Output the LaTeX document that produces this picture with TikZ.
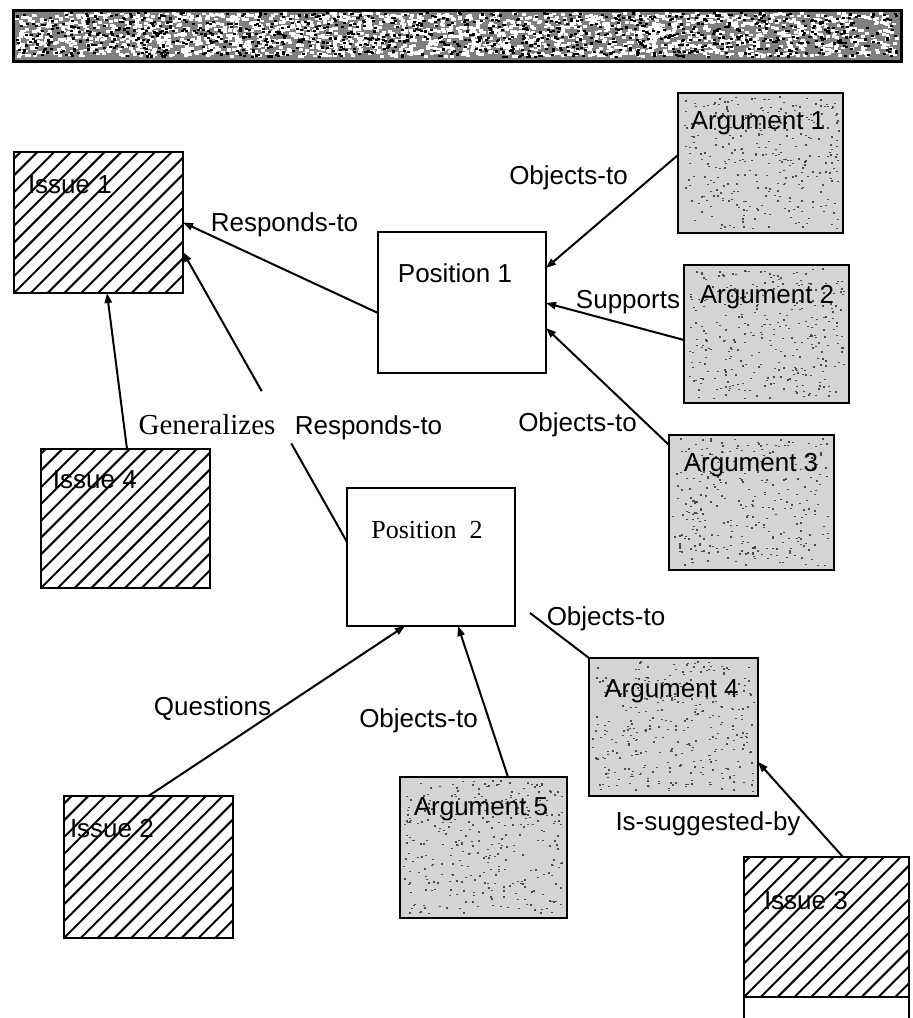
\documentclass[tikz,border=0pt]{standalone}
\usepackage{fontspec}
\setmainfont{Liberation Serif}
\setsansfont{Liberation Sans}
\usetikzlibrary{arrows.meta,calc}

\newcommand\mkspeck[7]{% x y w h n color size
  \foreach \i in {1,...,#5}{%
    \pgfmathsetmacro\sx{#1+rnd*(#3-#7)}%
    \pgfmathsetmacro\sy{#2+rnd*(#4-#7)}%
    \fill[#6] (\sx,\sy) rectangle ++(#7,#7*0.7);%
  }}

\tikzset{
  every node/.style={inner sep=0pt, outer sep=0pt},
  box/.style={draw, rectangle, line width=1pt},
  issue/.style={box, fill=white, path picture={
      \foreach \k in {-11,...,12}{
        \draw[line width=1pt] ($(path picture bounding box.south west)+(\k*8.4pt,0)$) -- ++(120pt,120pt);}}},
  position/.style={box, line width=1.1pt, fill=white},
  argument/.style={box, line width=1.4pt, fill=black!17},
  lab/.style={font=\sffamily\fontsize{13}{15}\selectfont},
  serlab/.style={font=\rmfamily\fontsize{14.5}{16}\selectfont},
  conn/.style={line width=1pt},
  arr/.style={conn, -{Triangle[length=5pt,width=3.6pt]}},
}

\begin{document}
\begin{tikzpicture}[x=0.5pt,y=-0.5pt]
\useasboundingbox[fill=white] (0,0) rectangle (913,1018);

% banner
\node[box, line width=1.5pt, fill=black!50, minimum width=444pt, minimum height=25.5pt] (ban) at (457,35.5) {};
\pgfmathsetseed{7}
\mkspeck{15}{12}{884}{47}{2200}{white}{4}
\mkspeck{15}{12}{884}{47}{1100}{black}{3}
\draw[line width=1.5pt] (ban.north west) rectangle (ban.south east);

% issues
\node[issue, minimum width=84.5pt, minimum height=70.5pt] (i1) at (98.5,222.5) {};
\node[issue, minimum width=84.5pt, minimum height=69.5pt] (i4) at (125.5,518.5) {};
\node[issue, minimum width=84.5pt, minimum height=71pt] (i2) at (148.5,867) {};
\node[issue, line width=1.3pt, minimum width=82.5pt, minimum height=70pt] (i3) at (826.5,927) {};
\draw[conn] (i3.south west) -- ++(0,21);
\draw[conn] (i3.south east) -- ++(0,21);

% positions
\node[position, minimum width=84pt, minimum height=70.5pt] (p1) at (462,302.5) {};
\node[position, minimum width=84pt, minimum height=69pt] (p2) at (431,557) {};

% arguments
\node[argument, minimum width=82.5pt, minimum height=70pt] (a1) at (760.5,163) {};
\node[argument, minimum width=82.5pt, minimum height=69pt] (a2) at (766.5,334) {};
\node[argument, minimum width=82.5pt, minimum height=67.5pt] (a3) at (751.5,502.5) {};
\node[argument, minimum width=84.5pt, minimum height=69pt] (a4) at (673.5,727) {};
\node[argument, minimum width=83.5pt, minimum height=70.5pt] (a5) at (483.5,847.5) {};
\mkspeck{681}{96}{159}{134}{320}{black!70}{2}
\mkspeck{687}{268}{159}{132}{320}{black!70}{2}
\mkspeck{672}{438}{159}{129}{320}{black!70}{2}
\mkspeck{592}{661}{163}{132}{320}{black!70}{2}
\mkspeck{403}{780}{161}{135}{320}{black!70}{2}

% box texts
\node[lab, anchor=west] (ti1) at (28,185) {Issue 1};
\node[lab, anchor=west] (ti4) at (53,480) {Issue 4};
\node[lab, anchor=west] (ti2) at (70,829) {Issue 2};
\node[lab, anchor=west] (ti3) at (764,901) {Issue 3};
\node[lab] (tp1) at (455,273) {Position 1};
\node[font=\rmfamily\fontsize{13}{15}\selectfont] (tp2) at (427,530) {Position\hspace{0.5em}2};
\node[lab] (ta1) at (758,123) {Argument 1};
\node[lab] (ta2) at (767,297) {Argument 2};
\node[lab] (ta3) at (751,465) {Argument 3};
\node[lab] (ta4) at (671.5,691) {Argument 4};
\node[lab] (ta5) at (481,809) {Argument 5};

% connectors
\draw[arr] ($(p1.west)+(0,10.5)$) -- (i1.east);
\path ($(p2.west)+(0,-15)$) coordinate (r2s) ($(i1.east)+(0,29.5)$) coordinate (r2e);
\path (r2s) -- (r2e) coordinate[pos=0.34] (g1) coordinate[pos=0.52] (g2);
\draw[conn] (r2s) -- (g1);
\draw[arr] (g2) -- (r2e);
\draw[arr] ($(i4.north)+(1.5,0)$) -- ($(i1.south)+(8.5,0)$);
\draw[arr] ($(a1.west)+(0,-8)$) -- ($(p1.east)+(0,-34.5)$);
\draw[arr] ($(a2.west)+(0,6)$) -- ($(p1.east)+(0,0.5)$);
\draw[arr] ($(a3.north west)+(0,10)$) -- ($(p1.east)+(0,25.5)$);
\draw[arr] (i2.north) -- ($(p2.south)+(-26,0)$);
\draw[arr] ($(a5.north)+(24.5,0)$) -- ($(p2.south)+(27,0)$);
\coordinate (c9) at (530,613);
\draw[conn] (a4.north west) -- (c9);
\draw[arr] ($(i3.north)+(16.5,0)$) -- ($(a4.east)+(0,35)$);

% connector labels
\node[lab] (l1) at (284.5,225) {Responds-to};
\node[lab] (l2) at (568.5,178) {Objects-to};
\node[lab] (l3) at (628,302) {Supports};
\node[lab] (l4) at (577.5,425) {Objects-to};
\node[serlab] (l5) at (207,425) {Generalizes};
\node[lab] (l6) at (368.5,428) {Responds-to};
\node[lab] (l7) at (212.5,709) {Questions};
\node[lab] (l8) at (418.5,721) {Objects-to};
\node[lab] (l9) at (606,619) {Objects-to};
\node[lab] (l10) at (708,824) {Is-suggested-by};
\end{tikzpicture}
\end{document}
